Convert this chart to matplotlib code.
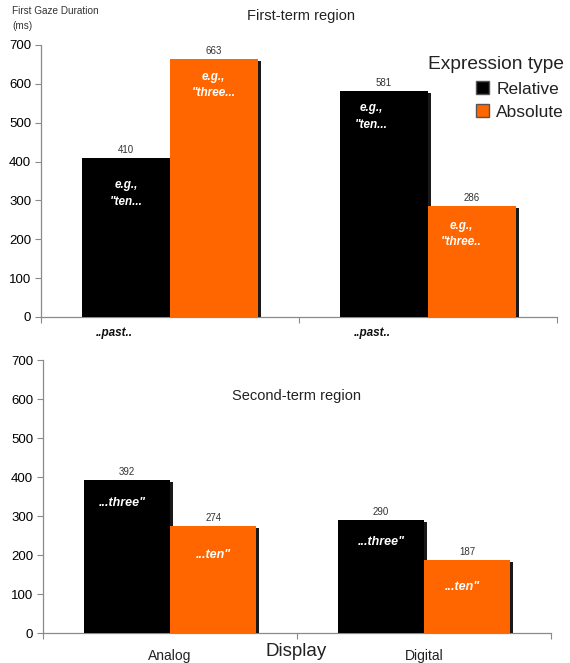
import matplotlib
matplotlib.use("Agg")
import matplotlib.pyplot as plt
import matplotlib.patheffects as pe
from matplotlib.patches import Patch
import numpy as np

plt.rcParams['font.family'] = ['Liberation Sans', 'DejaVu Sans']

displays = ["Analog", "Digital"]
series = ["Relative", "Absolute"]
first_relative = [410, 581]
first_absolute = [663, 286]
second_relative = [392, 290]
second_absolute = [274, 187]
first_inner_rel = ["e.g.,\n\"ten...", "e.g.,\n\"ten..."]
first_inner_abs = ["e.g.,\n\"three...", "e.g.,\n\"three.."]
second_inner_rel = ["...three\"", "...three\""]
second_inner_abs = ["...ten\"", "...ten\""]
yticks = [0, 100, 200, 300, 400, 500, 600, 700]

BLACK = "#000000"
ORANGE = "#FF6600"
GRAY = "#8a8a8a"

fig = plt.figure(figsize=(5.70, 6.63), dpi=100)
ax1 = fig.add_axes([0.0719, 0.5219, 0.905, 0.4103])
ax2 = fig.add_axes([0.0754, 0.0452, 0.8913, 0.4118])

shadow = [pe.SimplePatchShadow(offset=(2.2, -1.5), shadow_rgbFace="black", alpha=0.9), pe.Normal()]
w = 0.34
x = np.arange(len(displays))


def style(ax):
    ax.set_xlim(-0.5, 1.5)
    ax.set_ylim(0, 700)
    ax.set_yticks(yticks)
    ax.tick_params(axis='y', labelsize=9.5, length=4, color=GRAY, width=0.8, pad=3)
    ax.set_xticks([-0.5, 0.5, 1.5])
    ax.set_xticklabels([])
    ax.tick_params(axis='x', length=4, color=GRAY, width=0.8)
    for s in ["top", "right"]:
        ax.spines[s].set_visible(False)
    for s in ["left", "bottom"]:
        ax.spines[s].set_color(GRAY)
        ax.spines[s].set_linewidth(0.9)


def draw(ax, rel, ab, inner_rel, inner_abs, off_rel, off_abs, fs):
    b1 = ax.bar(x - w / 2, rel, w, color=BLACK, zorder=3)
    b2 = ax.bar(x + w / 2, ab, w, color=ORANGE, zorder=3)
    for bars in (b1, b2):
        for r in bars:
            r.set_path_effects(shadow)
    for i in range(len(x)):
        ax.text(x[i] - w / 2, rel[i] + 8, str(rel[i]), ha='center', va='bottom', fontsize=7, color="#333333")
        ax.text(x[i] + w / 2, ab[i] + 8, str(ab[i]), ha='center', va='bottom', fontsize=7, color="#333333")
        ax.text(x[i] - w / 2 + off_rel[i][0], rel[i] - off_rel[i][1], inner_rel[i], ha='center', va='center',
                fontsize=fs, color='white', fontweight='bold', fontstyle='italic', linespacing=1.5, zorder=5)
        ax.text(x[i] + w / 2 + off_abs[i][0], ab[i] - off_abs[i][1], inner_abs[i], ha='center', va='center',
                fontsize=fs, color='white', fontweight='bold', fontstyle='italic', linespacing=1.5, zorder=5)


style(ax1)
style(ax2)
draw(ax1, first_relative, first_absolute, first_inner_rel, first_inner_abs,
     [(0.0, 92), (-0.05, 65)], [(0.0, 66), (-0.04, 72)], 8.5)
draw(ax2, second_relative, second_absolute, second_inner_rel, second_inner_abs,
     [(-0.02, 59), (0.0, 57)], [(0.0, 74), (-0.02, 69)], 9)

for i in range(len(x)):
    ax1.text(x[i] - 0.215, -42, "..past..", ha='center', va='center', fontsize=8.5,
             fontweight='bold', fontstyle='italic', color='#111111', clip_on=False)
    ax2.text(x[i], -58, displays[i], ha='center', va='center', fontsize=10, color='#222222', clip_on=False)

ax2.text(0.5, 608, "Second-term region", ha='center', va='center', fontsize=10.5, color='#222222')
fig.text(301 / 570, 1 - 16 / 663, "First-term region", ha='center', va='center', fontsize=10.5, color='#222222')
fig.text(296 / 570, 1 - 651 / 663, "Display", ha='center', va='center', fontsize=13.5, color='#222222')
fig.text(12 / 570, 1 - 6 / 663, "First Gaze Duration\n(ms)", ha='left', va='top', fontsize=7.2,
         color='#333333', linespacing=1.6)

handles = [Patch(facecolor=BLACK, edgecolor='#555555'), Patch(facecolor=ORANGE, edgecolor='#555555')]
leg = fig.legend(handles, series, loc='upper right', bbox_to_anchor=(1.008, 1 - 46 / 663),
                 title="Expression type", title_fontsize=13.8, fontsize=12.5, frameon=False,
                 alignment='right', handlelength=0.75, handleheight=0.75, handletextpad=0.4,
                 labelspacing=0.45, borderaxespad=0.2)
for t in leg.get_texts():
    t.set_color('#222222')
leg.get_title().set_color('#222222')

fig.savefig("out.png", dpi=100)
